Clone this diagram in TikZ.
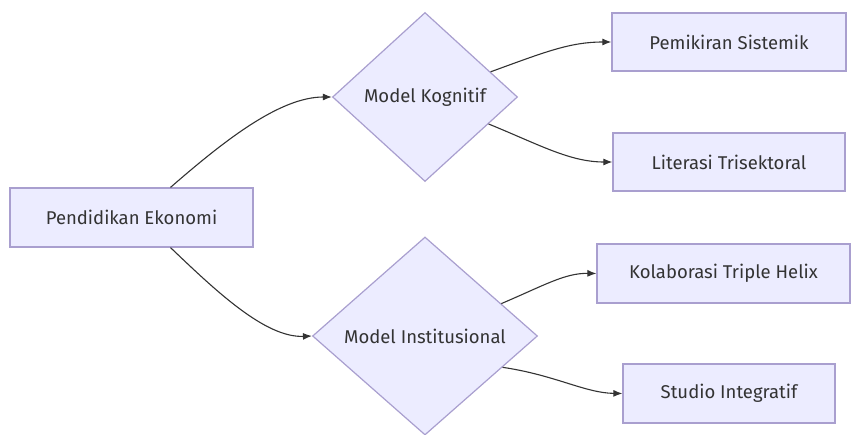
\documentclass[tikz,border=0pt]{standalone}
\usepackage{fontspec}
\setmainfont{Fira Sans}
\usetikzlibrary{shapes.geometric,arrows.meta}
\definecolor{nodefill}{HTML}{ECECFF}
\definecolor{nodeline}{HTML}{A99FCF}
\definecolor{txt}{HTML}{333333}
\tikzset{
  x=1pt, y=-1pt,
  every node/.style={font=\fontsize{18.5}{22}\selectfont, text=txt},
  boxnode/.style={draw=nodeline, fill=nodefill, line width=1.2pt, rectangle, inner sep=0pt},
  decision/.style={draw=nodeline, fill=nodefill, line width=1.2pt, diamond, inner sep=0pt},
  link/.style={draw=txt, line width=1.1pt, -{Latex[length=9pt,width=7pt]}}
}
\begin{document}
\begin{tikzpicture}
\useasboundingbox (0,0) rectangle (853,435);
\node[boxnode, minimum width=243pt, minimum height=59pt] (ped) at (131.5,217.5) {Pendidikan Ekonomi};
\node[decision, minimum width=185pt, minimum height=169pt] (kog) at (425,97) {Model Kognitif};
\node[decision, minimum width=225pt, minimum height=198pt] (ins) at (425,336) {Model Institusional};
\node[boxnode, minimum width=234pt, minimum height=58pt] (pem) at (729,42) {Pemikiran Sistemik};
\node[boxnode, minimum width=232pt, minimum height=58pt] (lit) at (729,162) {Literasi Trisektoral};
\node[boxnode, minimum width=253pt, minimum height=59pt] (kol) at (723.5,273.5) {Kolaborasi Triple Helix};
\node[boxnode, minimum width=212pt, minimum height=59pt] (stu) at (729,393.5) {Studio Integratif};

\coordinate (pedU) at ([xshift=39pt]ped.north);
\coordinate (pedD) at ([xshift=39pt]ped.south);
\draw[link] (pedU) .. controls (225,140) and (280,97) .. (kog.west);
\draw[link] (pedD) .. controls (215,290) and (265,338) .. (ins.west);
\draw[link] (kog.21) .. controls (545,52) and (570,42) .. (pem.west);
\draw[link] (kog.-23) .. controls (540,145) and (570,162) .. (lit.west);
\draw[link] (ins.23) .. controls (545,285) and (565,273) .. (kol.west);
\draw[link] (ins.-22) .. controls (555,375) and (585,393) .. (stu.west);
\end{tikzpicture}
\end{document}
